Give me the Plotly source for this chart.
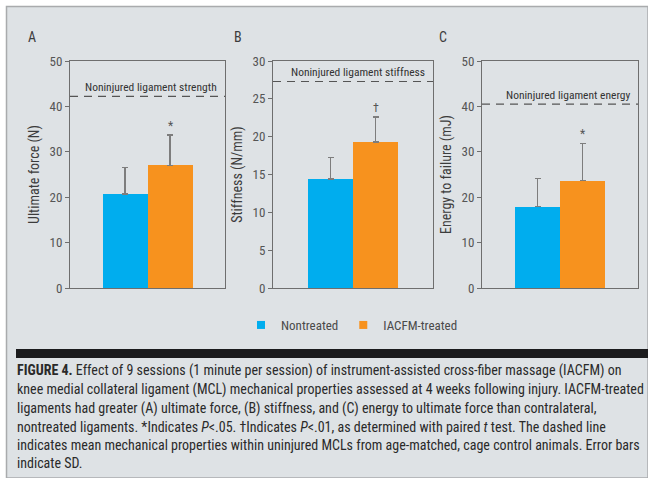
import plotly.graph_objects as go

W, H = 648, 478

# ---------------- data ----------------
panel_letters = ["A", "B", "C"]
y_titles = ["Ultimate force (N)", "Stiffness (N/mm)", "Energy to failure (mJ)"]
series_names = ["Nontreated", "IACFM-treated"]
nontreated_mean = [20.7, 14.4, 17.9]
nontreated_sd = [5.8, 2.9, 6.3]
treated_mean = [27.0, 19.3, 23.6]
treated_sd = [6.7, 3.3, 8.3]
noninjured_value = [42.2, 27.3, 40.5]
noninjured_labels = ["Noninjured ligament strength", "Noninjured ligament stiffness",
                     "Noninjured ligament energy"]
sig_marks = ["*", "\u2020", "*"]
y_max = [50, 30, 50]
y_dtick = [10, 5, 10]

caption_lines = [
    "<b>FIGURE 4.</b> Effect of 9 sessions (1 minute per session) of instrument-assisted cross-fiber massage (IACFM) on",
    "knee medial collateral ligament (MCL) mechanical properties assessed at 4 weeks following injury. IACFM-treated",
    "ligaments had greater (A) ultimate force, (B) stiffness, and (C) energy to ultimate force than contralateral,",
    "nontreated ligaments. *Indicates <i>P</i>&lt;.05. \u2020Indicates <i>P</i>&lt;.01, as determined with paired <i>t</i> test. The dashed line",
    "indicates mean mechanical properties within uninjured MCLs from age-matched, cage control animals. Error bars",
    "indicate SD.",
]

# ---------------- style / layout ----------------
FONT = "Roboto Condensed, DejaVu Sans Condensed, sans-serif"
BLUE = "#00adee"
ORANGE = "#f7921e"
BG = "#dee2e5"
TXT = "#555555"
AX = "#6e6e6e"

panel_px = [(70, 225), (273, 433), (482, 638)]   # left/right pixel edges
plot_top, plot_bottom = 61, 288
letter_x = [32, 238, 443]
caption_y = [370, 389, 408, 427, 445, 463]

fig = go.Figure()
layout_axes = {}
shapes = []
annotations = []

# outer gray panel + black bar
shapes.append(dict(type="rect", xref="paper", yref="paper", x0=6.5 / W, x1=1.0,
                   y0=0.0, y1=(H - 6.5) / H, fillcolor=BG,
                   line=dict(color="#a9abad", width=1.5), layer="below"))
shapes.append(dict(type="rect", xref="paper", yref="paper", x0=16 / W, x1=1.0,
                   y0=(H - 358) / H, y1=(H - 349) / H, fillcolor="#1b1b1d",
                   line=dict(width=0), layer="below"))

for i in range(3):
    n = "" if i == 0 else str(i + 1)
    xa, ya = "x" + n, "y" + n
    left, right = panel_px[i]
    wpx = right - left
    half = wpx / 90.0
    for j, (mean, sd, col) in enumerate([(nontreated_mean[i], nontreated_sd[i], BLUE),
                                         (treated_mean[i], treated_sd[i], ORANGE)]):
        fig.add_trace(go.Bar(
            x=[j], y=[mean], width=[1], marker=dict(color=col, line=dict(width=0)),
            error_y=dict(type="data", array=[sd], arrayminus=[0], symmetric=False,
                         color="#7d7d7d", thickness=1.2, width=3),
            xaxis=xa, yaxis=ya, showlegend=False, name=series_names[j],
        ))
    layout_axes["xaxis" + n] = dict(
        domain=[left / W, right / W], anchor=ya, range=[0.5 - half, 0.5 + half],
        showticklabels=False, ticks="", showgrid=False, zeroline=False, automargin=False,
        showline=True, mirror=True, linecolor=AX, linewidth=1, fixedrange=True)
    layout_axes["yaxis" + n] = dict(
        domain=[(H - plot_bottom) / H, (H - plot_top) / H], anchor=xa,
        range=[0, y_max[i]], dtick=y_dtick[i], ticks="outside", ticklen=4,
        tickcolor=AX, showgrid=False, zeroline=False, showline=True, mirror=True,
        linecolor=AX, linewidth=1, automargin=False,
        tickfont=dict(family=FONT, size=13, color=TXT),
        title=dict(text=y_titles[i], font=dict(family=FONT, size=14, color="#3c3c3c"),
                   standoff=6))
    # dashed reference line
    shapes.append(dict(type="line", xref=xa + " domain", yref=ya, x0=0, x1=1,
                       y0=noninjured_value[i], y1=noninjured_value[i],
                       line=dict(color="#555555", width=1.1, dash="8px,6px")))
    annotations.append(dict(xref=xa + " domain", yref=ya, x=1, y=noninjured_value[i],
                            xanchor="right", yanchor="bottom", xshift=-6, yshift=0,
                            text=noninjured_labels[i], showarrow=False,
                            font=dict(family=FONT, size=11.5, color="#333333")))
    # significance mark
    annotations.append(dict(xref=xa, yref=ya, x=1, y=treated_mean[i] + treated_sd[i],
                            yanchor="bottom", text=sig_marks[i], showarrow=False,
                            yshift=0, font=dict(family=FONT, size=12, color="#555555")))
    # panel letter
    annotations.append(dict(xref="paper", yref="paper", x=letter_x[i] / W, y=(H - 37) / H,
                            xanchor="center", yanchor="middle", text=panel_letters[i],
                            showarrow=False, font=dict(family=FONT, size=14, color="#3c3c3c")))

# legend entries
for name, col in zip(series_names, [BLUE, ORANGE]):
    fig.add_trace(go.Scatter(x=[None], y=[None], mode="markers", name=name,
                             marker=dict(symbol="square", size=8, color=col),
                             xaxis="x", yaxis="y", showlegend=True))

for k, line in enumerate(caption_lines):
    annotations.append(dict(xref="paper", yref="paper", x=15 / W, y=(H - caption_y[k]) / H,
                            xanchor="left", yanchor="middle", align="left", text=line,
                            showarrow=False, font=dict(family=FONT, size=14, color="#2a2a2a")))

fig.update_layout(
    width=W, height=H, autosize=False,
    margin=dict(l=0, r=0, t=0, b=0, pad=0, autoexpand=False),
    paper_bgcolor="white", plot_bgcolor="white",
    font=dict(family=FONT, color=TXT),
    showlegend=True,
    legend=dict(orientation="h", x=241 / W, xanchor="left", y=(H - 325) / H,
                yanchor="middle", bgcolor="rgba(0,0,0,0)",
                font=dict(family=FONT, size=13, color="#4a4a4a")),
    shapes=shapes, annotations=annotations, bargap=0,
    **layout_axes,
)

fig.write_html("out.html", config={"displayModeBar": False, "responsive": False},
               post_script="document.body.style.margin='0';document.body.style.overflow='hidden';")
